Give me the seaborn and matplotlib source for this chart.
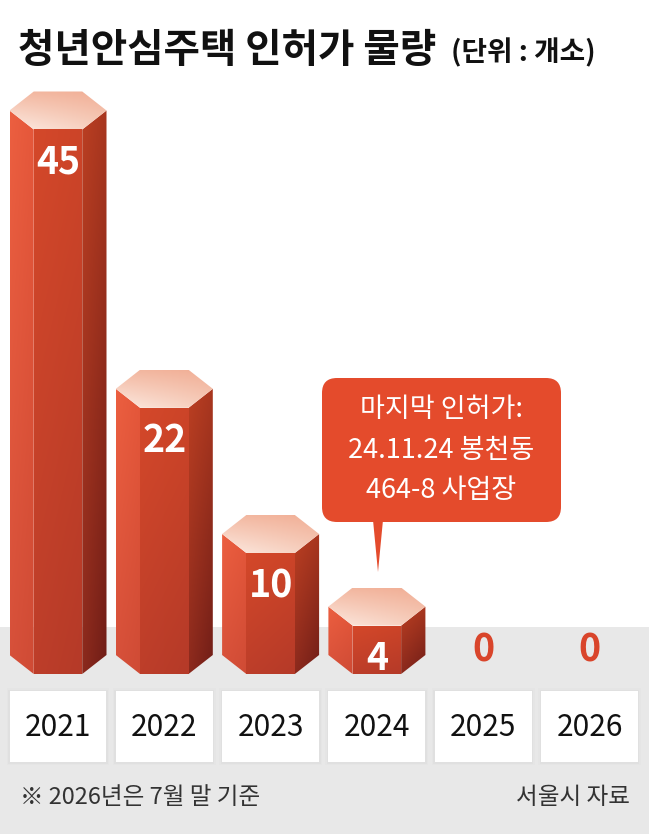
import matplotlib
matplotlib.use("Agg")
import matplotlib.pyplot as plt
import matplotlib.transforms as mtransforms
from matplotlib.patches import Polygon, Rectangle, FancyBboxPatch
from matplotlib.colors import to_rgb
import seaborn as sns
import pandas as pd
import numpy as np

# data
years = ["2021", "2022", "2023", "2024", "2025", "2026"]
permits = [45, 22, 10, 4, 0, 0]

title = "청년안심주택 인허가 물량"
unit = "(단위 : 개소)"
callout_lines = ["마지막 인허가:", "24.11.24 봉천동", "464-8 사업장"]
note = "※ 2026년은 7월 말 기준"
source = "서울시 자료"

W, H = 649, 834
PX_PER_UNIT = 12.1   # vertical pixels per permit
ZERO_PX = 655        # pixel row of value 0
HEX_H = 19 / PX_PER_UNIT   # half height of hexagon caps in data units


def py(p):
    """pixel row (from top) -> data y"""
    return (ZERO_PX - p) / PX_PER_UNIT


sns.set_theme(style="white")
plt.rcParams["font.family"] = ["Noto Sans CJK KR", "DejaVu Sans"]

fig = plt.figure(figsize=(W / 100, H / 100), dpi=100)
ax = fig.add_axes([0, 0, 1, 1])
pix = mtransforms.Affine2D().scale(1 / W, -1 / H).translate(0, 1) + fig.transFigure

df = pd.DataFrame({"year": years, "permits": permits})
sns.barplot(data=df, x="year", y="permits", width=0.9125, color="#e55b3d",
            saturation=1, ax=ax, zorder=2)

# grey floor
ax.axhspan(py(H + 5), py(627), color="#e8e8e8", zorder=0, lw=0)


def grad_poly(xy, tl, tr, bl, br, z):
    xy = np.asarray(xy)
    n = 60
    t = np.linspace(0, 1, n)[:, None, None]
    s = np.linspace(0, 1, n)[None, :, None]
    tl, tr, bl, br = [np.array(to_rgb(c)) for c in (tl, tr, bl, br)]
    img = (1 - t) * ((1 - s) * tl + s * tr) + t * ((1 - s) * bl + s * br)
    im = ax.imshow(img, extent=[xy[:, 0].min(), xy[:, 0].max(),
                                xy[:, 1].min(), xy[:, 1].max()],
                   aspect="auto", origin="upper", zorder=z,
                   interpolation="bilinear")
    clip = Polygon(xy, closed=True, transform=ax.transData)
    im.set_clip_path(clip)


for p, v, yr in zip(ax.patches, permits, years):
    x0 = p.get_x()
    w = p.get_width()
    x1 = x0 + w
    q = 0.25 * w
    cx = x0 + w / 2
    h = HEX_H
    p.set_visible(False)
    if v > 0:
        left = [(x0, v), (x0 + q, v - h), (x0 + q, -h), (x0, 0)]
        front = [(x0 + q, v - h), (x1 - q, v - h), (x1 - q, -h), (x0 + q, -h)]
        right = [(x1 - q, v - h), (x1, v), (x1, 0), (x1 - q, -h)]
        top = [(x0, v), (x0 + q, v + h), (x1 - q, v + h), (x1, v),
               (x1 - q, v - h), (x0 + q, v - h)]
        grad_poly(left, "#ec5f40", "#e5573a", "#d6503a", "#cf4b35", 3)
        grad_poly(front, "#d4482a", "#cc4428", "#bd3e2a", "#b53a28", 3)
        grad_poly(right, "#bb3f22", "#a8361f", "#8c2a1d", "#6f1d17", 3)
        grad_poly(top, "#f3b9a2", "#f1ae95", "#fce9e0", "#f6cdbb", 4)
        ax.text(cx, v - 52 / PX_PER_UNIT, str(v), ha="center", va="center",
                color="white", fontsize=27, fontweight="bold", zorder=6)
    else:
        ax.text(cx, py(650), str(v), ha="center", va="center",
                color="#d9452b", fontsize=27, fontweight="bold", zorder=6)

    # year boxes with soft shadow
    for k, a in [(3, 0.012), (1.5, 0.02)]:
        dx = k / 106.3
        ax.add_patch(Rectangle((x0 - dx, py(762 + k)), w + 2 * dx,
                               py(691 - k) - py(762 + k), facecolor="black",
                               alpha=a, lw=0, zorder=1))
    ax.add_patch(Rectangle((x0, py(762)), w, py(691) - py(762),
                           facecolor="white", lw=0, zorder=2))
    ax.text(cx, py(727), yr, ha="center", va="center", fontsize=21.5,
            color="#111111", zorder=3)

ax.set_xlim(-58 / 106.3, (W - 58) / 106.3)
ax.set_ylim(py(H), py(0))
ax.set_axis_off()

# callout for the last permit
box = FancyBboxPatch((322, 378), 239, 144, boxstyle="round,pad=0,rounding_size=15",
                     transform=pix, facecolor="#e44b2c", edgecolor="none", zorder=7)
fig.patches.append(box)
tip = Polygon([(373, 520), (383, 520), (378, 572)], closed=True, transform=pix,
              facecolor="#e44b2c", edgecolor="none", zorder=7)
fig.patches.append(tip)
for i, line in enumerate(callout_lines):
    fig.text(441.5 / W, 1 - (409 + i * 41) / H, line, ha="center", va="center",
             color="white", fontsize=19.5, zorder=8)

# titles and notes
fig.text(18 / W, 1 - 50 / H, title, fontsize=28.5, fontweight="bold",
         va="center", color="#111111")
fig.text(451 / W, 1 - 53 / H, unit, fontsize=20, fontweight="bold",
         va="center", color="#111111")
fig.text(20 / W, 1 - 797 / H, note, fontsize=17, va="center", color="#333333")
fig.text(630 / W, 1 - 797 / H, source, fontsize=17, va="center", ha="right",
         color="#333333")

fig.savefig("out.png", dpi=100)
